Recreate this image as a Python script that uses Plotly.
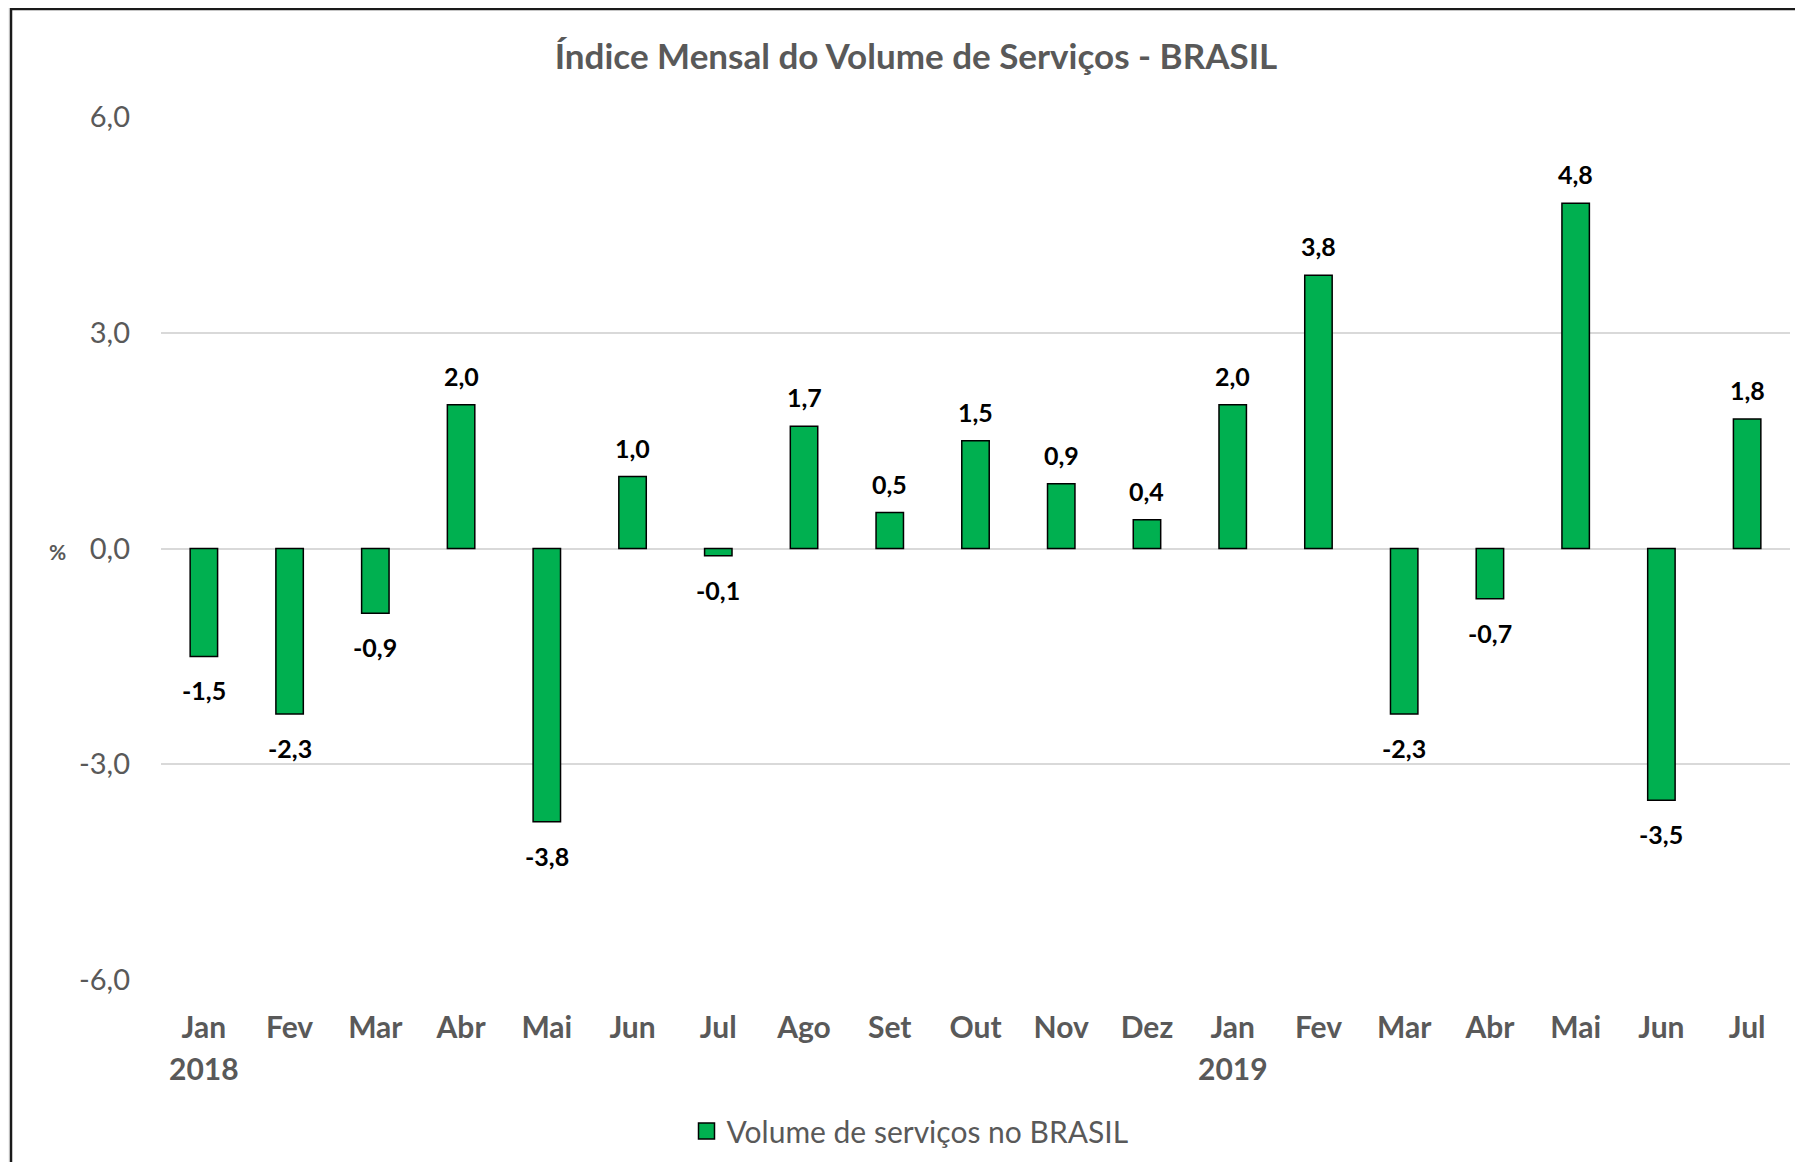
import plotly.graph_objects as go

# dados (variação mensal, %)
meses = ["Jan", "Fev", "Mar", "Abr", "Mai", "Jun", "Jul", "Ago", "Set", "Out", "Nov", "Dez",
         "Jan", "Fev", "Mar", "Abr", "Mai", "Jun", "Jul"]
valores = [-1.5, -2.3, -0.9, 2.0, -3.8, 1.0, -0.1, 1.7, 0.5, 1.5, 0.9, 0.4,
           2.0, 3.8, -2.3, -0.7, 4.8, -3.5, 1.8]
anos = {0: "2018", 12: "2019"}
y_ticks = [-6, -3, 0, 3, 6]

# the page body has an 8px margin, so work in screen pixels and subtract it
OFF = 8
W, H = 1803 - 2 * OFF, 1170 - 2 * OFF
L, T = 161 - OFF, 117 - OFF
R = W - (1790 - OFF)
B = H - (980 - OFF)
pw, ph = W - L - R, H - T - B

def px_x(p):
    return (p - OFF - L) / pw

def px_y(p):
    return (H - B - (p - OFF)) / ph

def br(v):
    # formato brasileiro, hífen simples
    return f"{v:.1f}".replace(".", ",")

GRAY = "#595959"
GREEN = "#00B050"
FONT = "Lato, 'Open Sans', sans-serif"

x = list(range(len(meses)))

fig = go.Figure()
fig.add_trace(go.Bar(
    x=x, y=valores, width=0.32,
    marker=dict(color=GREEN, line=dict(color="black", width=1.5)),
    name="Volume de serviços no BRASIL", showlegend=False,
))
# legend entry only (bigger square like the original)
fig.add_trace(go.Scatter(
    x=[None], y=[None], mode="markers",
    marker=dict(symbol="square", size=16, color=GREEN, line=dict(color="black", width=1.5)),
    name="Volume de serviços no BRASIL",
))

annots = []
for i, v in zip(x, valores):
    annots.append(dict(
        x=i, y=v, xref="x", yref="y", showarrow=False,
        text=f"<b>{br(v)}</b>",
        font=dict(size=25, color="black", family=FONT),
        yshift=29 if v >= 0 else -34,
    ))
for i, a in anos.items():
    annots.append(dict(
        x=i, y=px_y(1068), xref="x", yref="paper", showarrow=False,
        text=f"<b>{a}</b>", font=dict(size=30, color=GRAY, family=FONT),
        yanchor="middle",
    ))
annots.append(dict(
    x=px_x(58), y=0, xref="paper", yref="y", showarrow=False,
    xanchor="center", yshift=-3,
    text="<b>%</b>", font=dict(size=21, color=GRAY, family=FONT),
))

fig.update_layout(
    width=W, height=H,
    margin=dict(l=L, r=R, t=T, b=B),
    paper_bgcolor="#f4f4f4",
    plot_bgcolor="rgba(0,0,0,0)",
    font=dict(family=FONT, color=GRAY),
    title=dict(
        text="<b>Índice Mensal do Volume de Serviços - BRASIL</b>",
        x=(916 - OFF) / W, xanchor="center",
        y=1 - (57 - OFF) / H, yanchor="middle",
        font=dict(size=35, color=GRAY, family=FONT),
    ),
    showlegend=True,
    legend=dict(
        orientation="h", x=px_x(910), xanchor="center",
        y=px_y(1131), yanchor="middle",
        bgcolor="rgba(0,0,0,0)",
        font=dict(size=30, color=GRAY, family=FONT),
        itemwidth=30,
    ),
    shapes=[dict(
        type="rect", xref="paper", yref="paper", layer="below",
        x0=px_x(11), x1=px_x(1830), y0=px_y(1200), y1=px_y(9),
        fillcolor="white", line=dict(color="#1a1a1a", width=2.5),
    )],
    annotations=annots,
)

fig.update_xaxes(
    range=[-0.5, len(meses) - 0.5],
    tickvals=x, ticktext=[f"<b>{m}</b>" for m in meses],
    tickfont=dict(size=30, color=GRAY, family=FONT),
    showgrid=False, showline=False, zeroline=False, ticks="",
    ticklabelstandoff=27,
)
fig.update_yaxes(
    range=[-6, 6], tickvals=y_ticks, ticktext=[br(t) for t in y_ticks],
    tickfont=dict(size=29, color=GRAY, family=FONT),
    showgrid=True, gridcolor="#d9d9d9", gridwidth=2,
    zeroline=True, zerolinecolor="#d9d9d9", zerolinewidth=2,
    showline=False, ticks="", ticklabelstandoff=30,
)

fig.write_html("out.html")
